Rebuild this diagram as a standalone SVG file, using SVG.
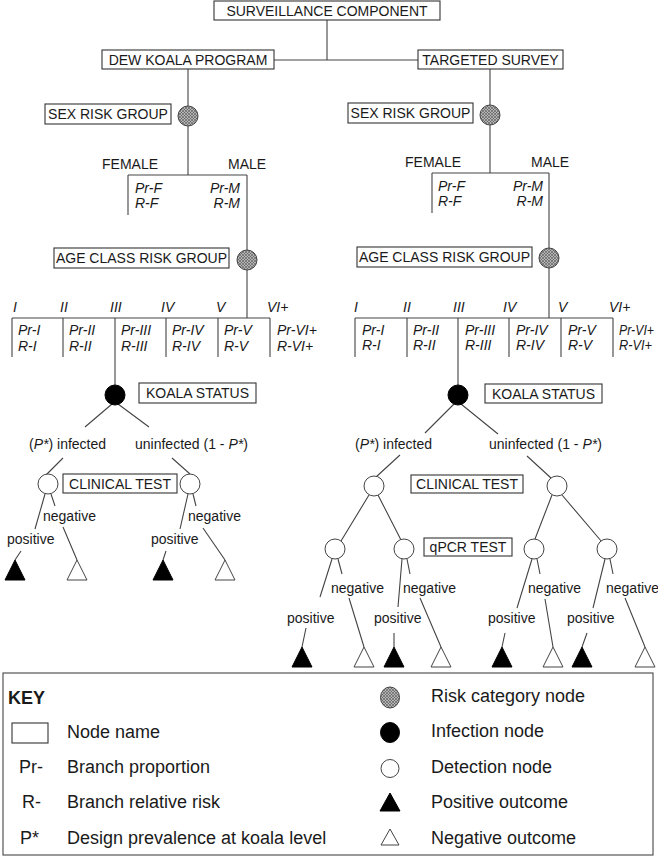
<svg xmlns="http://www.w3.org/2000/svg" width="658" height="857" viewBox="0 0 658 857">
<style>
text{font-family:"Liberation Sans",Arial,sans-serif;font-size:14px;fill:#1a1a1a}
.it{font-style:italic}
.c{text-anchor:middle}
.e{text-anchor:end}
.box{fill:#fff;stroke:#333;stroke-width:1.1}
.ln{stroke:#444;stroke-width:1.1;fill:none}
.risk{fill:url(#hatch);stroke:#444;stroke-width:1}
.inf{fill:#000;stroke:#000;stroke-width:1}
.det{fill:#fff;stroke:#444;stroke-width:1}
.pos{fill:#000;stroke:#000;stroke-width:1}
.neg{fill:#fff;stroke:#444;stroke-width:1}
.k{font-size:18px}
</style>
<defs>
<pattern id="hatch" patternUnits="userSpaceOnUse" width="3" height="3">
<rect width="3" height="3" fill="#b4b4b4"/>
<path d="M0,3 L3,0 M0,0 L3,3" stroke="#555" stroke-width="0.6"/>
</pattern>
</defs>
<rect width="658" height="857" fill="#fff"/>

<g id="connectors">
<path class="ln" d="M327,20 V60 M274,60 H418 M188,69 V106 M490,69 V105"/>
<path class="ln" d="M188,126 V175 M128,175 H247 M128,175 V215 M247,175 V250 M247,270 V318 M12,318 H270 M12,318 V357 M63,318 V357 M115,318 V385 M166,318 V357 M218,318 V357 M270,318 V357"/>
<path class="ln" d="M490,125 V173 M432,173 H549 M432,173 V213 M549,173 V248 M549,268 V318 M355,318 H613 M355,318 V357 M407,318 V357 M458,318 V385 M509,318 V357 M561,318 V357 M613,318 V357"/>
<path class="ln" d="M112,404 L85,427 M118,404 L149,427 M63,458 L46,475 M172,458 L190,474"/>
<path class="ln" d="M45,494 L35,529 M21,551 L15,560 M51,494 L55,506 M63,527 L77,560"/>
<path class="ln" d="M188,494 L180,529 M166,551 L163,560 M193,494 L196,506 M203,528 L225,560"/>
<path class="ln" d="M454,404 L425,433 M461,404 L498,434 M400,455 L376,477 M527,456 L551,478"/>
<path class="ln" d="M369,495 L341,541 M378,495 L401,540 M552,495 L535,539 M562,495 L602,542"/>
<path class="ln" d="M332,559 L320,597 M306,628 L302,647 M338,559 L342,574 M349,598 L364,647"/>
<path class="ln" d="M402,559 L398,607 M394,633 L394,647 M407,559 L410,574 M420,598 L441,647"/>
<path class="ln" d="M532,559 L517,608 M505,633 L502,647 M537,559 L540,574 M545,599 L553,647"/>
<path class="ln" d="M605,559 L593,608 M587,633 L582,647 M610,559 L613,574 M625,598 L645,647"/>
</g>

<g id="surveillance"><rect class="box" x="214" y="1" width="226" height="19"/><text class="c" x="327" y="16">SURVEILLANCE COMPONENT</text></g>
<g id="dew"><rect class="box" x="102" y="50" width="172" height="19"/><text class="c" x="188" y="65">DEW KOALA PROGRAM</text></g>
<g id="targeted"><rect class="box" x="418" y="50" width="145" height="19"/><text class="c" x="490.5" y="65">TARGETED SURVEY</text></g>

<g id="sexL">
<rect class="box" x="45" y="104" width="126" height="20"/><text class="c" x="108" y="119">SEX RISK GROUP</text>
<circle class="risk" cx="188" cy="116" r="10"/>
<text x="102" y="169">FEMALE</text><text x="228" y="169">MALE</text>
<text class="it" x="135" y="193">Pr-F</text><text class="it" x="135" y="208">R-F</text>
<text class="it e" x="240" y="193">Pr-M</text><text class="it e" x="240" y="208">R-M</text>
</g>
<g id="sexR">
<rect class="box" x="348" y="103" width="125" height="20"/><text class="c" x="410.5" y="118">SEX RISK GROUP</text>
<circle class="risk" cx="490" cy="115" r="10"/>
<text x="405" y="167">FEMALE</text><text x="531" y="167">MALE</text>
<text class="it" x="438" y="191">Pr-F</text><text class="it" x="438" y="206">R-F</text>
<text class="it e" x="543" y="191">Pr-M</text><text class="it e" x="543" y="206">R-M</text>
</g>

<g id="ageL">
<rect class="box" x="54" y="248" width="175" height="20"/><text class="c" x="141.5" y="263">AGE CLASS RISK GROUP</text>
<circle class="risk" cx="247" cy="260" r="10"/>
<text class="it" x="13" y="312">I</text><text class="it" x="60" y="312">II</text><text class="it" x="110" y="312">III</text><text class="it" x="161" y="312">IV</text><text class="it" x="216" y="312">V</text><text class="it" x="267" y="312">VI+</text>
<text class="it" x="18" y="335">Pr-I</text><text class="it" x="18" y="351">R-I</text>
<text class="it" x="69" y="335">Pr-II</text><text class="it" x="69" y="351">R-II</text>
<text class="it" x="121" y="335">Pr-III</text><text class="it" x="121" y="351">R-III</text>
<text class="it" x="172" y="335">Pr-IV</text><text class="it" x="172" y="351">R-IV</text>
<text class="it" x="224" y="335">Pr-V</text><text class="it" x="224" y="351">R-V</text>
<text class="it" x="277" y="335">Pr-VI+</text><text class="it" x="277" y="351">R-VI+</text>
</g>
<g id="ageR">
<rect class="box" x="357" y="247" width="175" height="20"/><text class="c" x="444.5" y="262">AGE CLASS RISK GROUP</text>
<circle class="risk" cx="549" cy="258" r="10"/>
<text class="it" x="354" y="312">I</text><text class="it" x="403" y="312">II</text><text class="it" x="453" y="312">III</text><text class="it" x="503" y="312">IV</text><text class="it" x="558" y="312">V</text><text class="it" x="609" y="312">VI+</text>
<text class="it" x="362" y="335">Pr-I</text><text class="it" x="362" y="350">R-I</text>
<text class="it" x="413" y="335">Pr-II</text><text class="it" x="413" y="350">R-II</text>
<text class="it" x="465" y="335">Pr-III</text><text class="it" x="465" y="350">R-III</text>
<text class="it" x="516" y="335">Pr-IV</text><text class="it" x="516" y="350">R-IV</text>
<text class="it" x="568" y="335">Pr-V</text><text class="it" x="568" y="350">R-V</text>
<text class="it" x="619" y="335" textLength="35" lengthAdjust="spacingAndGlyphs">Pr-VI+</text><text class="it" x="619" y="350" textLength="33" lengthAdjust="spacingAndGlyphs">R-VI+</text>
</g>

<g id="koalaL">
<circle class="inf" cx="115" cy="395" r="10"/>
<rect class="box" x="139" y="383" width="117" height="20"/><text class="c" x="197.5" y="398">KOALA STATUS</text>
<text x="29" y="449">(<tspan class="it">P*</tspan>) infected</text>
<text x="135" y="449">uninfected (1 - <tspan class="it">P*</tspan>)</text>
</g>
<g id="koalaR">
<circle class="inf" cx="458" cy="395" r="10"/>
<rect class="box" x="485" y="384" width="117" height="19"/><text class="c" x="543.5" y="398.5">KOALA STATUS</text>
<text x="355" y="449">(<tspan class="it">P*</tspan>) infected</text>
<text x="489" y="449">uninfected (1 - <tspan class="it">P*</tspan>)</text>
</g>

<g id="clinicalL">
<circle class="det" cx="48" cy="484" r="10"/>
<circle class="det" cx="190" cy="484" r="10"/>
<rect class="box" x="63" y="474" width="114" height="19"/><text class="c" x="120" y="488.5">CLINICAL TEST</text>
<text x="7" y="544">positive</text><text x="43" y="521">negative</text>
<text x="151" y="544">positive</text><text x="188" y="521">negative</text>
<polygon class="pos" points="15,560 25,580 5,580"/>
<polygon class="neg" points="77,560 87,580 67,580"/>
<polygon class="pos" points="163,560 173,580 153,580"/>
<polygon class="neg" points="225,560 235,580 215,580"/>
</g>

<g id="clinicalR">
<circle class="det" cx="374" cy="486" r="10"/>
<circle class="det" cx="557" cy="486" r="10"/>
<rect class="box" x="411" y="475" width="112" height="18"/><text class="c" x="467" y="489">CLINICAL TEST</text>
</g>

<g id="qpcr">
<rect class="box" x="424" y="538" width="88" height="18"/><text class="c" x="468" y="552">qPCR TEST</text>
<circle class="det" cx="335" cy="549" r="10"/>
<circle class="det" cx="404" cy="549" r="10"/>
<circle class="det" cx="534" cy="549" r="10"/>
<circle class="det" cx="607" cy="549" r="10"/>
<text x="287" y="623">positive</text><text x="331" y="593">negative</text>
<text x="374" y="623">positive</text><text x="403" y="593">negative</text>
<text x="488" y="623">positive</text><text x="528" y="593">negative</text>
<text x="567" y="623">positive</text><text x="606" y="593">negative</text>
<polygon class="pos" points="302,647 312,667 292,667"/>
<polygon class="neg" points="364,647 374,667 354,667"/>
<polygon class="pos" points="394,647 404,667 384,667"/>
<polygon class="neg" points="441,647 451,667 431,667"/>
<polygon class="pos" points="502,647 512,667 492,667"/>
<polygon class="neg" points="553,647 563,667 543,667"/>
<polygon class="pos" points="582,647 592,667 572,667"/>
<polygon class="neg" points="645,647 655,667 635,667"/>
</g>

<g id="key">
<rect x="3" y="673" width="650" height="182" fill="none" stroke="#555" stroke-width="1.2"/>
<text class="k" x="8" y="704" font-weight="bold">KEY</text>
<rect class="box" x="12" y="723" width="36" height="20"/>
<text class="k" x="67" y="738">Node name</text>
<text class="k" x="19" y="773">Pr-</text><text class="k" x="67" y="773">Branch proportion</text>
<text class="k" x="22" y="808">R-</text><text class="k" x="67" y="808">Branch relative risk</text>
<text class="k" x="20" y="844">P*</text><text class="k" x="67" y="844">Design prevalence at koala level</text>
<ellipse class="risk" cx="390" cy="697.5" rx="9.5" ry="10.5"/><text class="k" x="431" y="702">Risk category node</text>
<ellipse class="inf" cx="390" cy="732.5" rx="9.5" ry="10"/><text class="k" x="431" y="737">Infection node</text>
<ellipse class="det" cx="390" cy="768.5" rx="9" ry="9"/><text class="k" x="431" y="773">Detection node</text>
<polygon class="pos" points="390,793 400,811 380,811"/><text class="k" x="431" y="808">Positive outcome</text>
<polygon class="neg" points="390,829 399,845 381,845"/><text class="k" x="431" y="844">Negative outcome</text>
</g>
</svg>
